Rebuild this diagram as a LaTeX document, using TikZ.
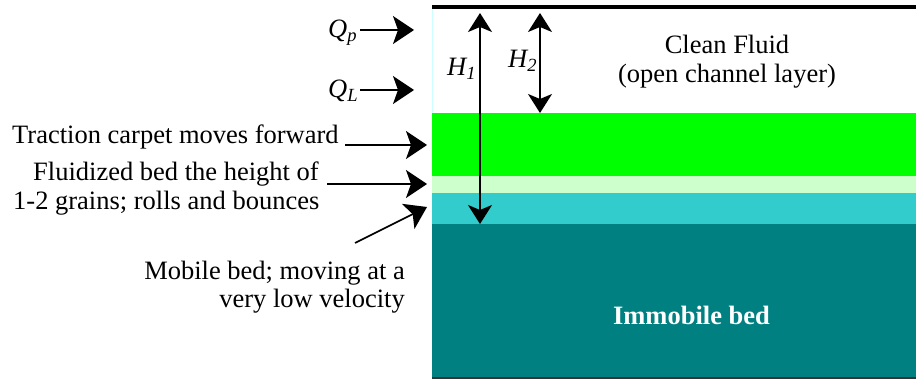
\documentclass[tikz,border=0pt]{standalone}
\usepackage{fontspec}
\setmainfont{Liberation Serif}
\usetikzlibrary{arrows.meta}
\definecolor{cgreen}{HTML}{00FF00}
\definecolor{clight}{HTML}{CCFFCC}
\definecolor{ccyan}{HTML}{33CCCC}
\definecolor{cteal}{HTML}{008080}
\definecolor{cedge}{HTML}{CCFFFF}
\tikzset{
  lbl/.style={inner sep=0pt, font=\fontsize{26.5}{30}\selectfont},
  arr/.style={line width=1.6pt, -{Stealth[length=21pt,width=28pt,inset=5pt]}},
  darr/.style={line width=1.6pt, {Stealth[length=19pt,width=24pt,inset=5pt]}-{Stealth[length=19pt,width=24pt,inset=5pt]}}
}
\begin{document}
\begin{tikzpicture}[x=1pt,y=-1pt]
\useasboundingbox (0,0) rectangle (916,379);
% layers
\fill[white] (432,9) rectangle (916,113);
\fill[cgreen] (432,113) rectangle (916,176);
\fill[clight] (432,176) rectangle (916,193);
\fill[ccyan] (432,193) rectangle (916,224);
\fill[cteal] (432,224) rectangle (916,378);
\draw[cedge, line width=1pt] (432,9.5) -- (432,113);
\draw[line width=1.2pt, black!80] (432,378) -- (916,378);
\draw[line width=4pt] (432,7.5) -- (916,7.5);
% texts
\node[lbl, anchor=base] (cf1) at (727,54) {Clean Fluid};
\node[lbl, anchor=base] (cf2) at (727,83) {(open channel layer)};
\node[lbl, anchor=base, text=white, font=\fontsize{26.5}{30}\selectfont\bfseries] (imm) at (691.5,325) {Immobile bed};
\node[lbl, anchor=base west] (trac) at (12,144) {Traction carpet moves forward};
\node[lbl, anchor=base west] (flu1) at (33,181) {Fluidized bed the height of};
\node[lbl, anchor=base west] (flu2) at (13,210) {1-2 grains; rolls and bounces};
\node[lbl, anchor=base east] (mob1) at (405,280) {Mobile bed; moving at a};
\node[lbl, anchor=base east] (mob2) at (405,308) {very low velocity};
\node[lbl, anchor=base west] (qp) at (328,38) {\itshape Q\textsubscript{p}};
\node[lbl, anchor=base west] (ql) at (328,98) {\itshape Q\textsubscript{L}};
\node[lbl, anchor=base west] (h1) at (447,76) {\itshape H\textsubscript{1}};
\node[lbl, anchor=base west] (h2) at (508,68) {\itshape H\textsubscript{2}};
% arrow end points
\coordinate (qpa) at (360,30);   \coordinate (qpb) at (414,30);
\coordinate (qla) at (360,90);   \coordinate (qlb) at (414,90);
\coordinate (h1a) at (480,13);   \coordinate (h1b) at (480,224);
\coordinate (h2a) at (540,13);   \coordinate (h2b) at (540,113);
\coordinate (tra) at (345,145);  \coordinate (trb) at (427,145);
\coordinate (fla) at (327,184);  \coordinate (flb) at (427,184);
\coordinate (moa) at (355,243);  \coordinate (mob) at (427,207);
% arrows
\draw[arr] (qpa) -- (qpb);
\draw[arr] (qla) -- (qlb);
\draw[darr] (h1a) -- (h1b);
\draw[darr] (h2a) -- (h2b);
\draw[arr] (tra) -- (trb);
\draw[arr] (fla) -- (flb);
\draw[arr] (moa) -- (mob);
\end{tikzpicture}
\end{document}
